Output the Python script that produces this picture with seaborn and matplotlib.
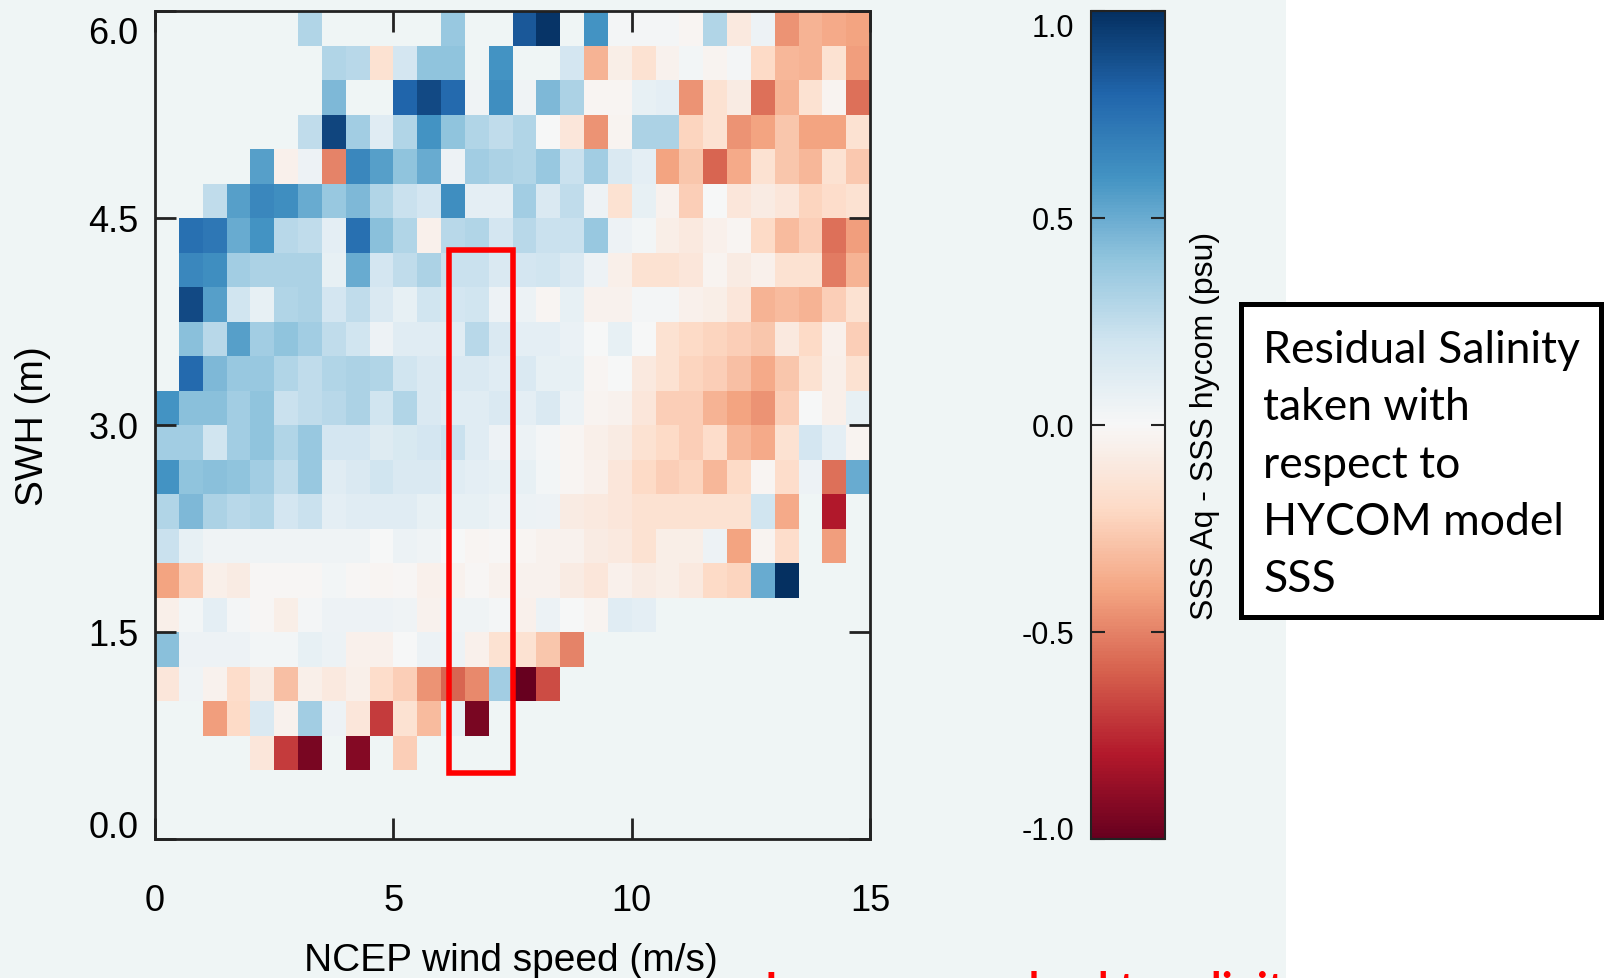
import numpy as np
import pandas as pd
import matplotlib
matplotlib.use("Agg")
import matplotlib.pyplot as plt
import matplotlib.transforms as mtransforms
import seaborn as sns
from matplotlib.patches import Rectangle

N = np.nan

# Bin edges (lower edges): wind speed in 0.5 m/s bins, SWH in 0.25 m bins
wind_bins = np.arange(0.0, 15.0, 0.5)          # 30 columns
swh_bins_top_down = np.arange(5.75, -0.25, -0.25)  # 24 rows, top (5.75-6.0) to bottom (0-0.25)

# Residual salinity (SSS Aq - SSS hycom, psu); rows listed from top (SWH 6.0) to bottom (SWH 0.0)
r23 = [N, N, N, N, N, N, 0.30, N, N, N, N, N, 0.38, N, N, 0.85, 0.98, N, 0.60, 0.02, 0.02, 0.02, -0.02, 0.30, -0.10, 0.05, -0.45, -0.35, -0.38, -0.40]
r22 = [N, N, N, N, N, N, N, 0.30, 0.28, -0.15, 0.18, 0.40, 0.40, N, 0.60, N, N, 0.18, -0.35, -0.07, -0.15, -0.04, 0.03, -0.03, 0.02, -0.20, -0.33, -0.35, -0.15, -0.42]
r21 = [N, N, N, N, N, N, N, 0.45, N, N, 0.80, 0.90, 0.78, 0.04, 0.62, 0.04, 0.45, 0.32, -0.02, -0.02, 0.08, 0.10, -0.45, -0.15, -0.08, -0.55, -0.35, -0.15, -0.03, -0.55]
r20 = [N, N, N, N, N, N, 0.25, 0.92, 0.35, 0.12, 0.30, 0.60, 0.40, 0.30, 0.25, 0.30, 0.00, -0.12, -0.45, -0.03, 0.32, 0.32, -0.22, -0.15, -0.45, -0.40, -0.28, -0.40, -0.40, -0.15]
r19 = [N, N, N, N, 0.55, -0.05, 0.05, -0.50, 0.65, 0.55, 0.40, 0.50, 0.05, 0.35, 0.32, 0.30, 0.38, 0.22, 0.35, 0.15, 0.10, -0.40, -0.28, -0.58, -0.38, -0.15, -0.28, -0.33, -0.15, -0.27]
r18 = [N, N, 0.25, 0.55, 0.65, 0.62, 0.50, 0.38, 0.45, 0.30, 0.22, 0.18, 0.62, 0.10, 0.10, 0.35, 0.15, 0.25, 0.05, -0.15, 0.08, -0.04, -0.25, 0.00, -0.12, -0.08, -0.12, -0.22, -0.18, -0.15]
r17 = [N, 0.75, 0.72, 0.50, 0.60, 0.28, 0.25, 0.10, 0.75, 0.42, 0.30, -0.05, 0.28, 0.30, 0.18, 0.28, 0.22, 0.22, 0.38, 0.05, 0.03, -0.07, -0.10, -0.05, -0.02, -0.20, -0.32, -0.25, -0.55, -0.42]
r16 = [N, 0.65, 0.62, 0.35, 0.32, 0.32, 0.32, 0.08, 0.50, 0.18, 0.25, 0.32, 0.22, 0.22, 0.15, 0.18, 0.20, 0.15, 0.05, -0.06, -0.15, -0.15, -0.12, -0.03, -0.08, -0.05, -0.15, -0.15, -0.52, -0.35]
r15 = [N, 0.90, 0.55, 0.20, 0.08, 0.30, 0.32, 0.18, 0.25, 0.15, 0.08, 0.20, 0.18, 0.20, 0.05, 0.06, -0.02, 0.08, -0.04, -0.04, 0.02, 0.02, -0.05, -0.07, -0.12, -0.35, -0.32, -0.35, -0.25, -0.15]
r14 = [N, 0.42, 0.28, 0.55, 0.35, 0.40, 0.35, 0.25, 0.20, 0.05, 0.12, 0.12, 0.12, 0.28, 0.15, 0.10, 0.10, 0.07, 0.00, 0.08, 0.00, -0.15, -0.20, -0.22, -0.25, -0.28, -0.10, -0.20, -0.05, -0.25]
r13 = [N, 0.78, 0.45, 0.38, 0.38, 0.30, 0.25, 0.30, 0.32, 0.30, 0.20, 0.15, 0.15, 0.15, 0.12, 0.15, 0.08, 0.08, -0.02, 0.00, -0.10, -0.15, -0.22, -0.25, -0.30, -0.38, -0.28, -0.15, -0.06, -0.15]
r12 = [0.60, 0.42, 0.42, 0.35, 0.40, 0.22, 0.25, 0.28, 0.32, 0.20, 0.30, 0.15, 0.12, 0.12, 0.15, 0.10, 0.15, 0.06, -0.03, -0.04, -0.12, -0.25, -0.25, -0.35, -0.40, -0.45, -0.25, 0.00, -0.06, 0.08]
r11 = [0.35, 0.35, 0.20, 0.35, 0.40, 0.30, 0.38, 0.18, 0.18, 0.13, 0.16, 0.18, 0.22, 0.12, 0.05, 0.06, 0.02, -0.02, -0.06, -0.08, -0.15, -0.20, -0.25, -0.18, -0.33, -0.38, -0.15, 0.18, 0.10, -0.03]
r10 = [0.60, 0.40, 0.42, 0.40, 0.35, 0.25, 0.38, 0.12, 0.15, 0.20, 0.15, 0.15, 0.12, 0.10, 0.08, 0.08, 0.03, -0.02, -0.05, -0.12, -0.20, -0.25, -0.22, -0.33, -0.20, -0.02, -0.18, 0.05, -0.55, 0.50]
r09 = [0.30, 0.45, 0.32, 0.28, 0.30, 0.18, 0.22, 0.10, 0.12, 0.12, 0.12, 0.08, 0.08, 0.08, 0.06, 0.06, 0.05, -0.08, -0.10, -0.12, -0.15, -0.15, -0.15, -0.15, -0.15, 0.20, -0.38, N, -0.80, N]
r08 = [0.22, 0.08, 0.04, 0.04, 0.04, 0.04, 0.04, 0.04, 0.04, 0.00, 0.06, 0.04, 0.00, -0.02, -0.01, -0.02, -0.04, -0.04, -0.08, -0.10, -0.15, -0.07, -0.07, 0.05, -0.40, -0.03, -0.18, N, -0.42, N]
r07 = [-0.40, -0.25, -0.06, -0.08, -0.01, -0.01, -0.01, 0.03, -0.01, -0.02, -0.01, -0.05, -0.04, -0.01, -0.04, -0.04, -0.04, -0.08, -0.12, -0.05, -0.08, -0.07, -0.10, -0.20, -0.22, 0.50, 1.00, N, N, N]
r06 = [-0.06, 0.03, 0.10, 0.02, -0.01, -0.07, 0.02, 0.05, 0.05, 0.05, 0.04, -0.04, 0.04, 0.04, 0.02, -0.05, 0.06, 0.00, -0.03, 0.12, 0.10, N, N, N, N, N, N, N, N, N]
r05 = [0.42, 0.05, 0.05, 0.05, 0.03, 0.03, 0.08, 0.06, -0.05, -0.05, 0.00, 0.06, 0.05, -0.05, -0.15, -0.15, -0.28, -0.50, N, N, N, N, N, N, N, N, N, N, N, N]
r04 = [-0.12, 0.04, -0.04, -0.18, -0.08, -0.30, -0.06, -0.10, -0.06, -0.18, -0.25, -0.45, -0.58, -0.48, 0.35, -1.00, -0.65, N, N, N, N, N, N, N, N, N, N, N, N, N]
r03 = [N, N, -0.42, -0.20, 0.15, -0.04, 0.35, 0.05, -0.12, -0.70, -0.15, -0.32, 0.08, -0.95, N, N, N, N, N, N, N, N, N, N, N, N, N, N, N, N]
r02 = [N, N, N, N, -0.12, -0.70, -0.95, N, -0.92, N, -0.25, N, N, N, N, N, N, N, N, N, N, N, N, N, N, N, N, N, N, N]
r01 = [N] * 30
r00 = [N] * 30

rows = [r23, r22, r21, r20, r19, r18, r17, r16, r15, r14, r13, r12,
        r11, r10, r09, r08, r07, r06, r05, r04, r03, r02, r01, r00]

x_tick_labels = ["0", "5", "10", "15"]
y_tick_labels = ["6.0", "4.5", "3.0", "1.5", "0.0"]
cbar_ticks = [-1.0, -0.5, 0.0, 0.5, 1.0]
cbar_tick_labels = ["-1.0", "-0.5", "0.0", "0.5", "1.0"]
box_lines = ["Residual Salinity", "taken with", "respect to", "HYCOM model", "SSS"]

# highlighted region (wind speed m/s, SWH m)
hl_wind = (6.17, 7.5)
hl_swh = (0.48, 4.27)

BG = "#eff5f5"
W, H = 1604, 979

df = pd.DataFrame(rows, index=[f"{v:.2f}" for v in swh_bins_top_down],
                  columns=[f"{v:.1f}" for v in wind_bins])

fig = plt.figure(figsize=(W / 100, H / 100), dpi=100, facecolor="white")
fig.patches.append(Rectangle((0, 0), 1286 / W, 1, transform=fig.transFigure,
                             facecolor=BG, edgecolor="none", zorder=-10))

plt.rcParams["font.family"] = ["Liberation Sans", "DejaVu Sans"]

ax = fig.add_axes([155 / W, 139 / H, 715 / W, 828 / H])
cax = fig.add_axes([1091 / W, 139 / H, 74 / W, 828 / H])

sns.heatmap(df, ax=ax, cbar_ax=cax, cmap="RdBu", vmin=-1, vmax=1,
            xticklabels=False, yticklabels=False, linewidths=0)
ax.set_facecolor(BG)

nx, ny = len(wind_bins), len(swh_bins_top_down)
ax.set_xlim(0, nx)
ax.set_ylim(ny, 0)
ax.set_xticks(np.linspace(0, nx, len(x_tick_labels)))
ax.set_xticklabels(x_tick_labels)
ax.set_yticks(np.linspace(0, ny, len(y_tick_labels)))
ax.set_yticklabels(y_tick_labels, rotation=0)
for s in ax.spines.values():
    s.set_visible(True)
    s.set_linewidth(2)
    s.set_color("#222222")
ax.tick_params(axis="both", direction="in", length=15, width=2, color="#222222",
               top=True, right=True, labelsize=26, labelcolor="black")
ax.tick_params(axis="x", pad=32)
ax.tick_params(axis="y", pad=12)


def shift(label, dy_px):
    label.set_transform(label.get_transform() +
                        mtransforms.ScaledTranslation(0, dy_px / 100, fig.dpi_scale_trans))


yl = ax.get_yticklabels()
shift(yl[0], -19)
shift(yl[-1], 15)

ax.set_xlabel("NCEP wind speed (m/s)", fontsize=28)
ax.set_ylabel("SWH (m)", fontsize=28)
ax.xaxis.set_label_coords((511 - 155) / 715, (840 - 961) / 828)
ax.xaxis.label.set_va("center")
ax.yaxis.set_label_coords((33 - 155) / 715, 0.5)
ax.yaxis.label.set_va("center")

# highlight rectangle (converted from data units to bin units)
x0 = hl_wind[0] / 0.5
x1 = hl_wind[1] / 0.5
y_top = (6.0 - hl_swh[1]) / 0.25
y_bot = (6.0 - hl_swh[0]) / 0.25
ax.add_patch(Rectangle((x0, y_top), x1 - x0, y_bot - y_top, fill=False,
                       edgecolor="#ff0000", linewidth=4, zorder=5, clip_on=False))

# colorbar
cbar = ax.collections[0].colorbar
cbar.set_ticks(cbar_ticks)
cbar.set_ticklabels(cbar_tick_labels)
cbar.outline.set_linewidth(1.5)
cbar.outline.set_edgecolor("#222222")
cax.yaxis.set_ticks_position("both")
cax.tick_params(axis="y", direction="in", length=10, width=1.5, color="#222222",
                left=True, right=True, labelleft=True, labelright=False,
                labelsize=22, pad=12)
cl = cax.get_yticklabels()
shift(cl[0], 11)
shift(cl[-1], -14)
cax.set_ylabel("SSS Aq - SSS hycom (psu)", fontsize=23)
cax.yaxis.set_label_position("right")
cax.yaxis.set_label_coords((1205 - 1091) / 74, 0.5)
cax.yaxis.label.set_va("center")

# annotation box
fig.patches.append(Rectangle((1241 / W, (H - 618) / H), 360 / W, 313 / H,
                             transform=fig.transFigure, facecolor="white",
                             edgecolor="black", linewidth=3.6, zorder=5))
for i, line in enumerate(box_lines):
    fig.text(1263 / W, (H - (363 + 57.3 * i)) / H, line, fontsize=32,
             family=["Lato", "DejaVu Sans"], va="baseline", ha="left", zorder=6)

# red caption, cut by the bottom edge as in the source slide
fig.text(765 / W, (H - 1004) / H, "Larger waves lead to salinity", color="#ff0000",
         fontsize=31, fontweight="bold", family=["Lato", "DejaVu Sans"],
         va="baseline", ha="left")

fig.savefig("out.png", dpi=100, facecolor="white")
